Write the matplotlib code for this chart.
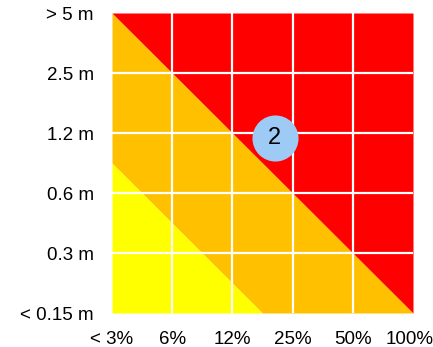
import numpy as np
import matplotlib
matplotlib.use("Agg")
import matplotlib.pyplot as plt
import matplotlib.transforms as mtransforms

plt.rcParams["font.family"] = ["Liberation Sans", "DejaVu Sans"]

# axis categories (ticks sit on the grid lines)
x_labels = ["< 3%", "6%", "12%", "25%", "50%", "100%"]
y_labels = ["< 0.15 m", "0.3 m", "0.6 m", "1.2 m", "2.5 m", "> 5 m"]

# risk bands: boundaries are diagonals x + y = const
band_limits = [2.5, 5.0]
band_colors = ["#FFFF00", "#FFC000", "#FF0000"]

# marked point
marker_x, marker_y = 2.7, 2.92
marker_label = "2"

fig = plt.figure(figsize=(4.33, 3.47), dpi=100)
ax = fig.add_axes([112 / 433, 34 / 347, 301 / 433, 300 / 347])

n = len(x_labels) - 1
xs = np.linspace(0, n, 501)
lower = np.zeros_like(xs)
for lim, col in zip(band_limits + [np.inf], band_colors):
    upper = np.clip(lim - xs, 0, n) if np.isfinite(lim) else np.full_like(xs, n)
    ax.fill_between(xs, lower, upper, color=col, linewidth=0, zorder=1)
    lower = upper

# white grid
for k in range(1, n):
    ax.axvline(k, color="white", lw=1.6, zorder=2)
    ax.axhline(k, color="white", lw=1.6, zorder=2)

ax.scatter([marker_x], [marker_y], s=1100, color="#9DCBF6", zorder=3, linewidths=0)
ax.text(marker_x, marker_y, marker_label, ha="center", va="center",
        fontsize=17, color="black", zorder=4)

ax.set_xlim(0, n)
ax.set_ylim(0, n)
ax.set_xticks(range(len(x_labels)))
ax.set_xticklabels(x_labels, fontsize=13.5)
ax.set_yticks(range(len(y_labels)))
ax.set_yticklabels(y_labels, fontsize=13.5)
ax.tick_params(length=0)
ax.tick_params(axis="y", pad=13)
ax.tick_params(axis="x", pad=13)
for s in ax.spines.values():
    s.set_visible(False)

# nudge the last x label so it stays inside the canvas
last = ax.get_xticklabels()[-1]
last.set_transform(last.get_transform() +
                   mtransforms.ScaledTranslation(-3 / 100, 0, fig.dpi_scale_trans))

fig.savefig("out.png", dpi=100)
